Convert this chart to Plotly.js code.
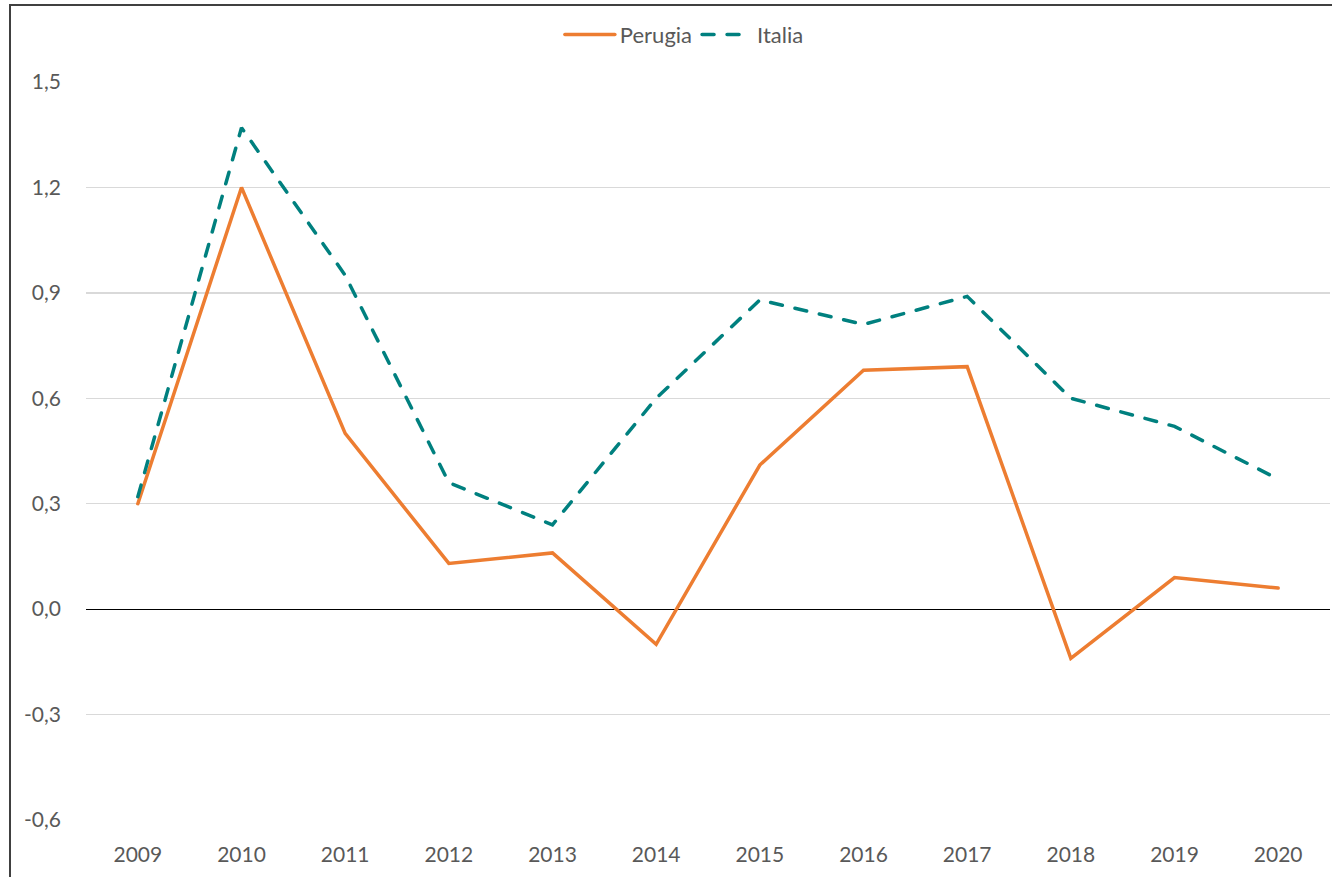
<!DOCTYPE html>
<html>
<head>
<meta charset="utf-8">
<script src="https://cdn.plot.ly/plotly-3.0.1.min.js"></script>
<style>
  html, body { margin: 0; padding: 0; background: #fff; overflow: hidden; }
  #frame { position: absolute; left: 9px; top: 4px; width: 1340px; height: 900px;
           border-left: 2px solid #404040; border-top: 2px solid #404040; }
  #chart { position: absolute; left: 0; top: 0; width: 1332px; height: 877px; }
  .scatterlayer .js-line, .legend .js-line { stroke-linecap: round; }
</style>
</head>
<body>
<div id="chart"></div>
<div id="frame"></div>
<script>
const years = ["2009","2010","2011","2012","2013","2014","2015","2016","2017","2018","2019","2020"];
const perugia = [0.30, 1.20, 0.50, 0.13, 0.16, -0.10, 0.41, 0.68, 0.69, -0.14, 0.09, 0.06];
const italia  = [0.32, 1.37, 0.95, 0.36, 0.24, 0.60, 0.88, 0.81, 0.89, 0.60, 0.52, 0.37];
const yTickVals = [-0.6, -0.3, 0, 0.3, 0.6, 0.9, 1.2, 1.5];
const yTickText = ["-0,6", "-0,3", "0,0", "0,3", "0,6", "0,9", "1,2", "1,5"];

const traces = [
  { x: years, y: perugia, name: "Perugia", type: "scatter", mode: "lines",
    line: { color: "#ED7D31", width: 3.5 } },
  { x: years, y: italia, name: "Italia", type: "scatter", mode: "lines",
    line: { color: "#00807F", width: 3.5, dash: "12px,13px" } }
];

const layout = {
  width: 1332, height: 877,
  margin: { l: 86, r: 2, t: 82, b: 57, autoexpand: false },
  paper_bgcolor: "#ffffff", plot_bgcolor: "#ffffff",
  font: { family: "Lato, 'Open Sans', sans-serif", color: "#595959", size: 21 },
  showlegend: true,
  legend: { orientation: "h", x: 0.481, xanchor: "center", y: 1.064, yanchor: "middle",
            itemwidth: 50, font: { size: 22, color: "#595959" }, traceorder: "normal" },
  xaxis: { type: "category", range: [-0.5, 11.5], showgrid: false, zeroline: false, showline: false,
           ticks: "", ticklabelstandoff: 20, tickfont: { size: 21, color: "#595959" }, fixedrange: true },
  yaxis: { range: [-0.6, 1.5], tickvals: yTickVals, ticktext: yTickText,
           showgrid: true, gridcolor: "#d9d9d9", gridwidth: 1.5,
           zeroline: true, zerolinecolor: "#000000", zerolinewidth: 1.2,
           showline: false, ticks: "", ticklabelstandoff: 24,
           tickfont: { size: 21, color: "#595959" }, fixedrange: true }
};

Plotly.newPlot("chart", traces, layout, { displayModeBar: false, staticPlot: true });
</script>
</body>
</html>
